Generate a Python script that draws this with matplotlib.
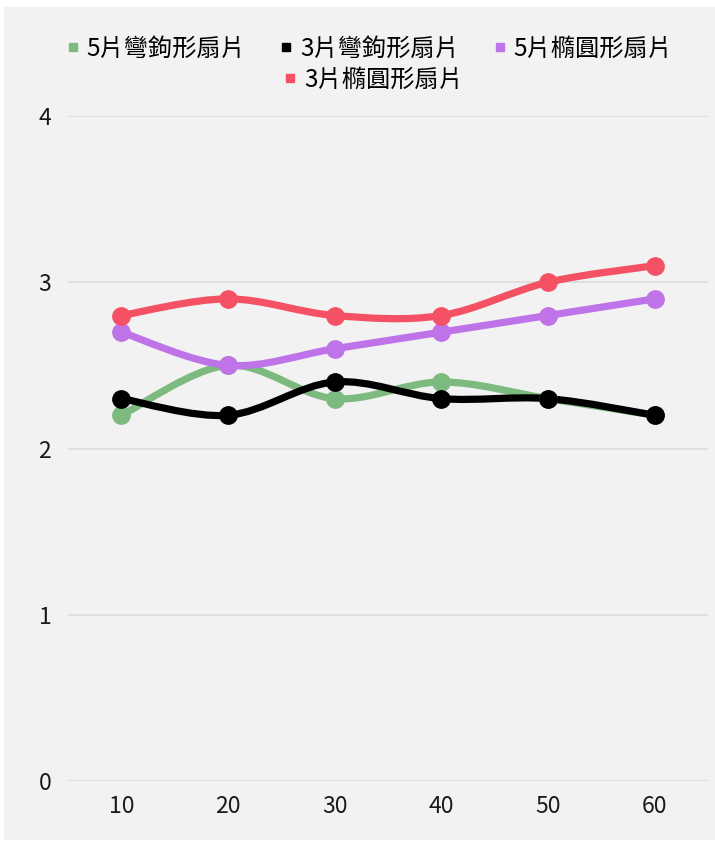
import matplotlib
matplotlib.use("Agg")
import matplotlib.pyplot as plt
from matplotlib.path import Path
from matplotlib.patches import PathPatch, Rectangle
from matplotlib.lines import Line2D

plt.rcParams['font.family'] = ['Noto Sans CJK TC', 'DejaVu Sans']

# data
categories = ['10', '20', '30', '40', '50', '60']
series_names = ['5片彎鉤形扇片', '3片彎鉤形扇片', '5片橢圓形扇片', '3片橢圓形扇片']
green_vals = [2.2, 2.5, 2.3, 2.4, 2.3, 2.2]
black_vals = [2.3, 2.2, 2.4, 2.3, 2.3, 2.2]
purple_vals = [2.7, 2.5, 2.6, 2.7, 2.8, 2.9]
red_vals = [2.8, 2.9, 2.8, 2.8, 3.0, 3.1]
y_ticks = [0, 1, 2, 3, 4]

colors = ['#7dba7f', '#000000', '#bf73e9', '#f45264']
all_vals = [green_vals, black_vals, purple_vals, red_vals]


def smooth_path(xs, ys):
    # Catmull-Rom curve through the points, written as cubic Beziers
    pts = list(zip(xs, ys))
    n = len(pts)
    verts = [pts[0]]
    codes = [Path.MOVETO]
    for i in range(n - 1):
        p0 = pts[i - 1] if i > 0 else pts[i]
        p1 = pts[i]
        p2 = pts[i + 1]
        p3 = pts[i + 2] if i + 2 < n else pts[i + 1]
        c1 = (p1[0] + (p2[0] - p0[0]) / 6, p1[1] + (p2[1] - p0[1]) / 6)
        c2 = (p2[0] - (p3[0] - p1[0]) / 6, p2[1] - (p3[1] - p1[1]) / 6)
        verts += [c1, c2, p2]
        codes += [Path.CURVE4] * 3
    return Path(verts, codes)


fig = plt.figure(figsize=(7.15, 8.44), dpi=100)
fig.patch.set_facecolor('white')
fig.patches.append(Rectangle((4 / 715, 4 / 844), 1 - 4 / 715, 1 - 11 / 844,
                             transform=fig.transFigure, facecolor='#f2f2f2',
                             edgecolor='none', zorder=-5))

ax = fig.add_axes([68 / 715, 1 - 781 / 844, 640 / 715, 665 / 844])
ax.set_facecolor('none')

x = list(range(len(categories)))
for vals, c in zip(all_vals, colors):
    ax.add_patch(PathPatch(smooth_path(x, vals), facecolor='none', edgecolor=c,
                           lw=5.2, capstyle='round', joinstyle='round', zorder=3))
    ax.plot(x, vals, linestyle='none', marker='o', markersize=12.5,
            color=c, zorder=4)

ax.set_xlim(-0.5, len(categories) - 0.5)
ax.set_ylim(0, 4)
ax.set_xticks(x)
ax.set_xticklabels(categories)
ax.set_yticks(y_ticks)
ax.set_yticklabels([str(v) for v in y_ticks])
ax.tick_params(length=0, labelsize=16.5, colors='#1a1a1a', pad=10)
ax.tick_params(axis='y', pad=12)
ax.grid(axis='y', color='#dcdcdc', lw=1.2)
ax.set_axisbelow(True)
for s in ax.spines.values():
    s.set_visible(False)

handles = [Line2D([], [], linestyle='none', marker='s', markersize=6, color=c)
           for c in colors]
leg_kw = dict(frameon=False, fontsize=17.5, handletextpad=0.25, columnspacing=1.4,
              handlelength=0.6, borderaxespad=0)
leg1 = fig.legend(handles[:3], series_names[:3], loc='center',
                  bbox_to_anchor=(369 / 715, 1 - 49 / 844), ncol=3, **leg_kw)
leg2 = fig.legend(handles[3:], series_names[3:], loc='center',
                  bbox_to_anchor=(373 / 715, 1 - 80 / 844), ncol=1, **leg_kw)

fig.savefig('out.png', dpi=100)
